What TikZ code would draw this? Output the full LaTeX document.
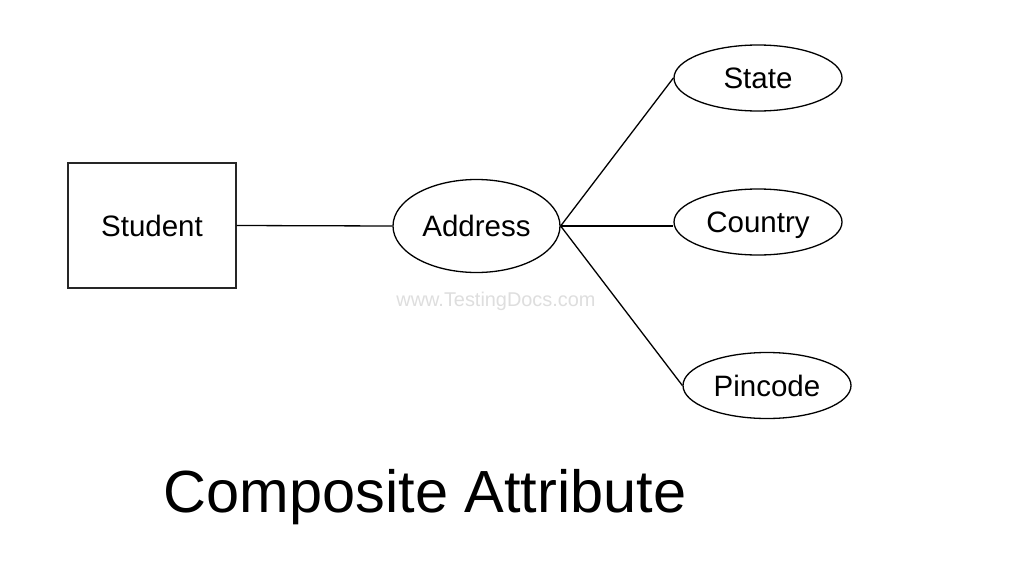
\documentclass[tikz,border=0pt]{standalone}
\usepackage{fontspec}
\setmainfont{Liberation Sans}
\usetikzlibrary{shapes.geometric}
\begin{document}
\begin{tikzpicture}[x=1pt,y=-1pt,
  entitybox/.style={draw=black!85,line width=1.4pt,rectangle,minimum width=168pt,minimum height=125pt,inner sep=0pt,text depth=0pt,font=\fontsize{29.5}{32}\selectfont},
  attr/.style={draw=black,line width=1.3pt,ellipse,minimum width=168pt,minimum height=66pt,inner sep=0pt,text depth=0pt,font=\fontsize{29.5}{32}\selectfont},
  conn/.style={draw=black,line width=1.3pt}]
\useasboundingbox (0,0) rectangle (1024,570);
\fill[white] (0,0) rectangle (1024,570);
\node[entitybox] (student) at (152,225.5) {Student};
\node[attr,minimum width=167pt,minimum height=93pt] (address) at (476.5,226) {Address};
\node[attr] (state) at (758,78) {State};
\node[attr] (country) at (758,222) {Country};
\node[attr] (pincode) at (767,385.5) {Pincode};
\node[text=black!13,font=\fontsize{19.9}{22}\selectfont] (wm) at (496,301) {www.TestingDocs.com};
\node[font=\fontsize{59.5}{64}\selectfont,anchor=base] (title) at (425,512) {Composite Attribute};
\draw[conn] (student.east) -- (address.west);
\draw[conn] (address.east) -- (state.west);
\draw[conn] (address.east) -- (address.east -| country.west);
\draw[conn] (address.east) -- (pincode.west);
\end{tikzpicture}
\end{document}
